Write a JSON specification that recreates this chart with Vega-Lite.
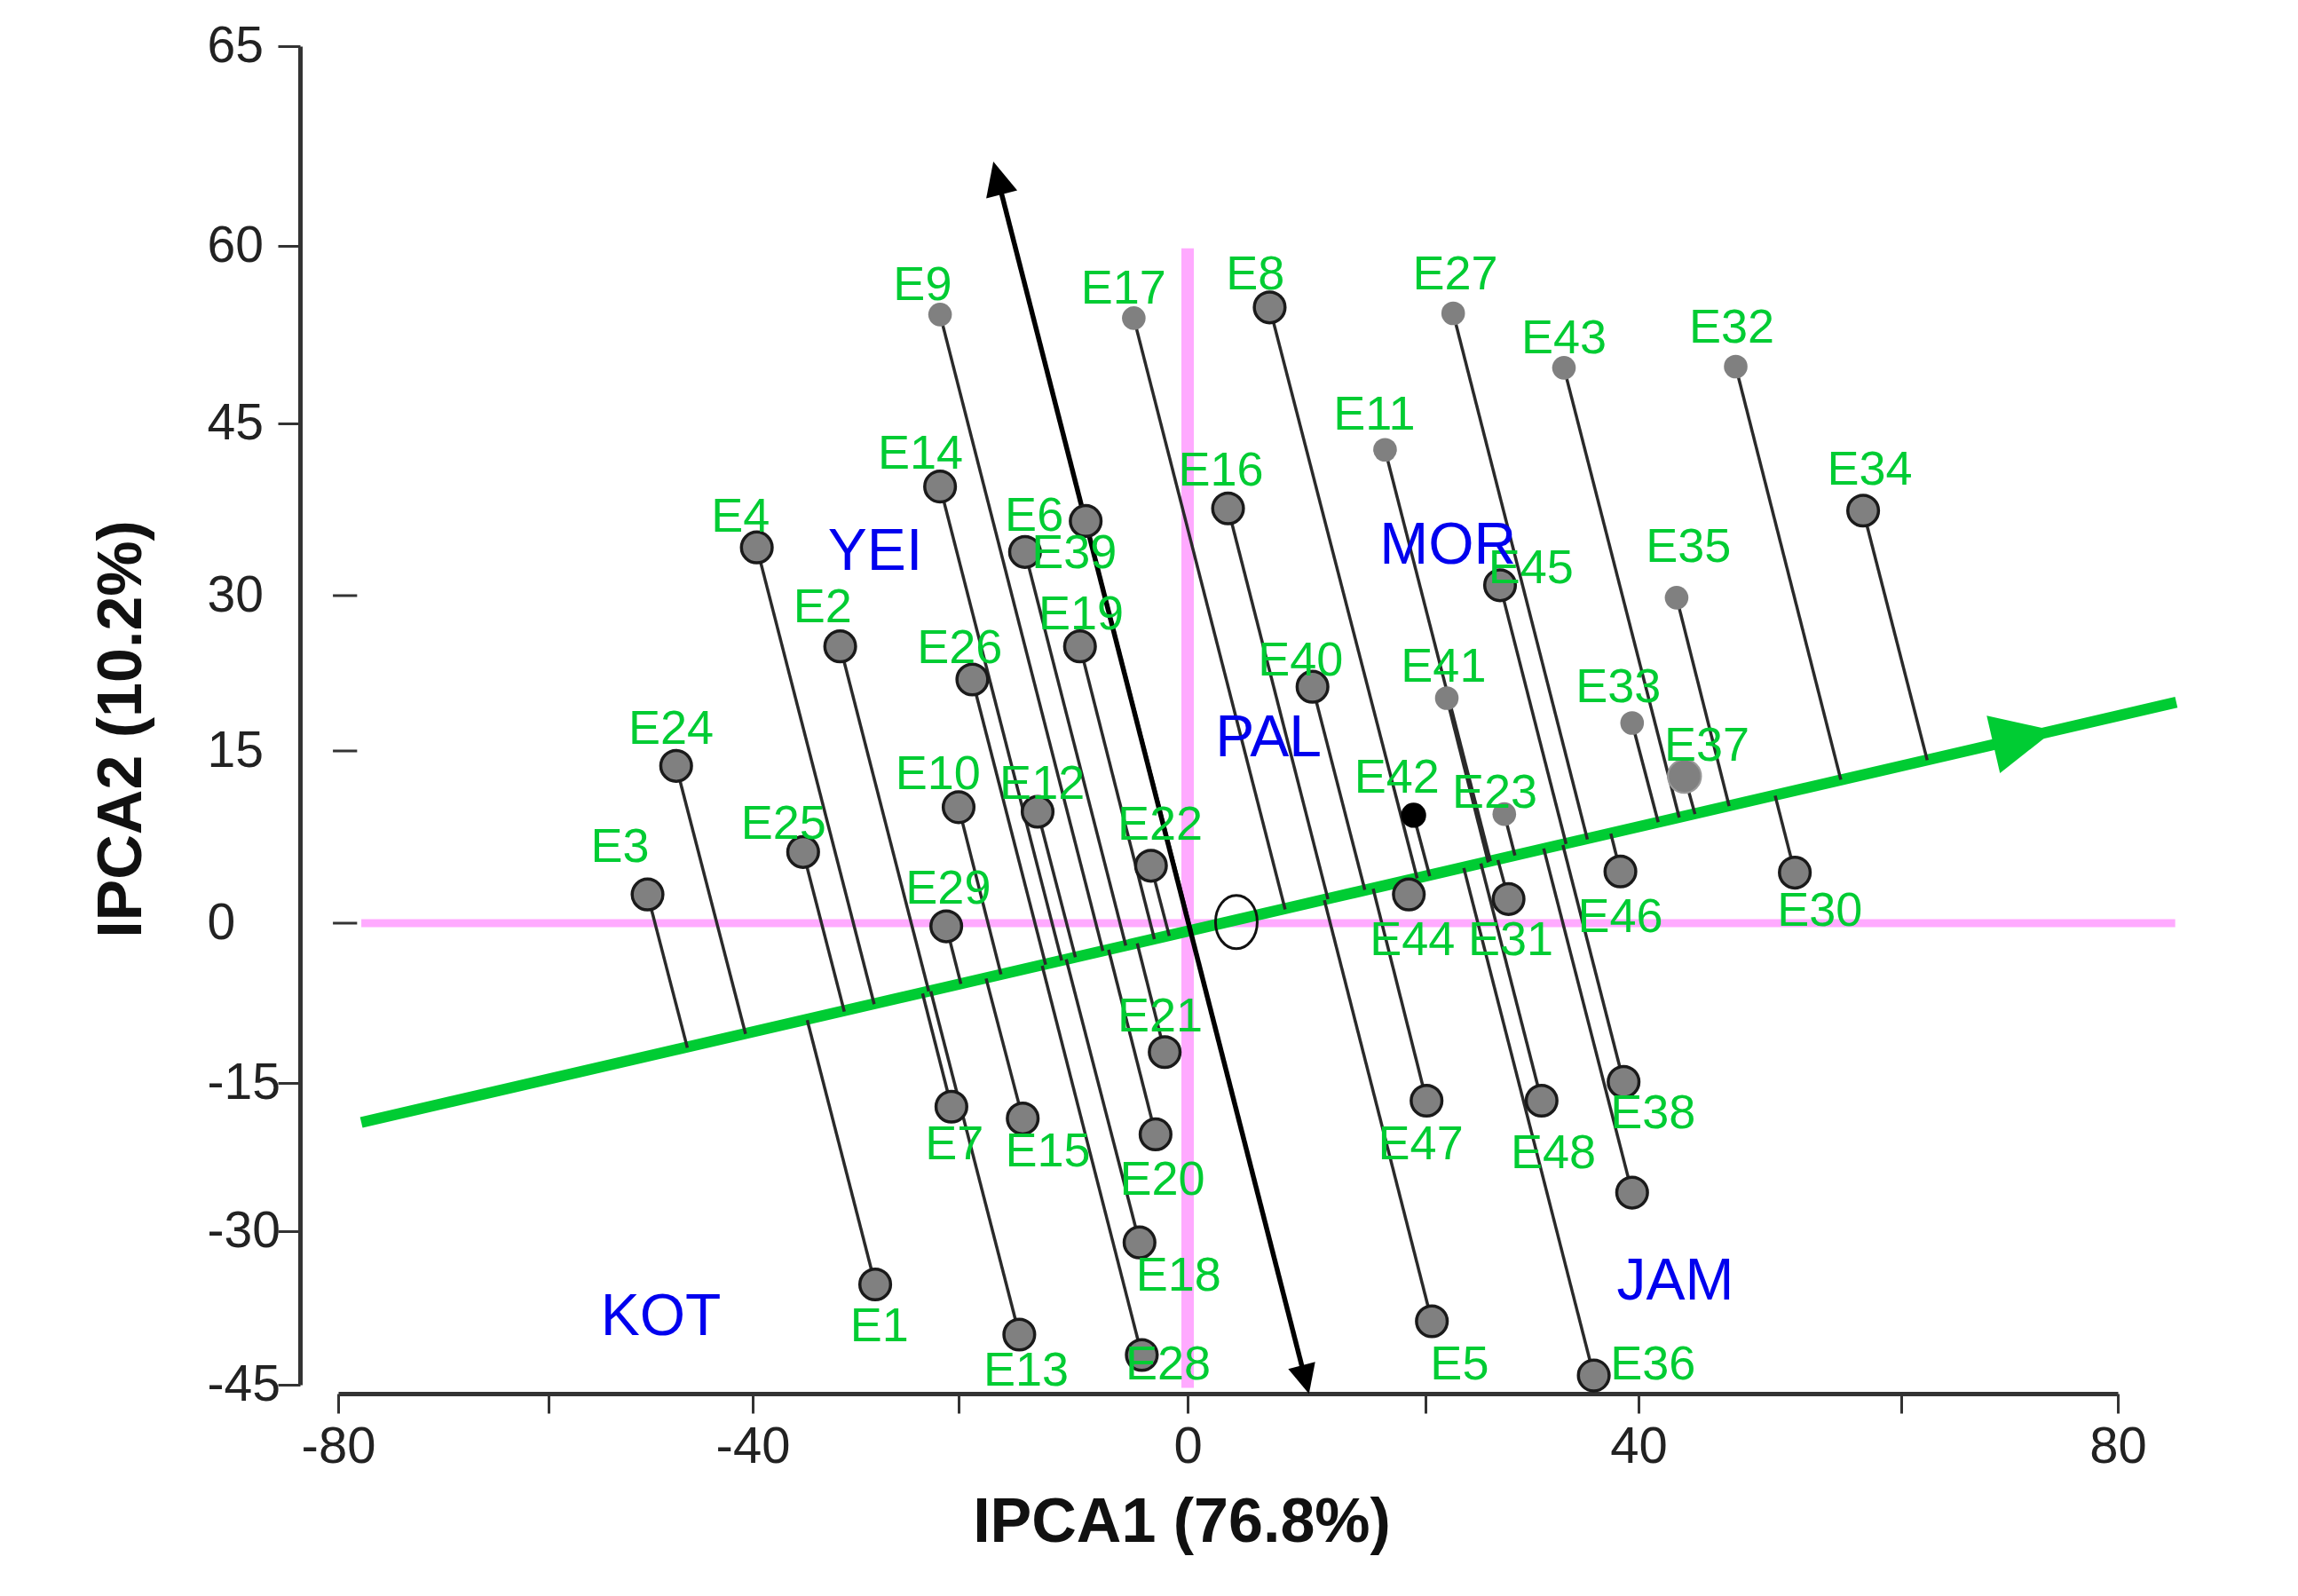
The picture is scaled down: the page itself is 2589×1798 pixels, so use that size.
{
  "$schema": "https://vega.github.io/schema/vega-lite/v6.json",
  "width": 2005,
  "height": 1508,
  "autosize": {"type": "none"},
  "padding": {"left": 381, "top": 52, "right": 203, "bottom": 238},
  "background": "white",
  "config": {"view": {"stroke": null}, "font": "Liberation Sans"},
  "datasets": {
    "genotypes": [
      {"g": "E1", "ipca1": -28.1, "ipca2": -35.2, "foot1": -34.7, "foot2": -9.1, "marker": "outlined"},
      {"g": "E2", "ipca1": -31.5, "ipca2": 25.1, "foot1": -22.9, "foot2": -6.4, "marker": "outlined"},
      {"g": "E3", "ipca1": -50.3, "ipca2": 2.5, "foot1": -46.4, "foot2": -11.7, "marker": "outlined"},
      {"g": "E4", "ipca1": -39.6, "ipca2": 34.2, "foot1": -28.2, "foot2": -7.6, "marker": "outlined"},
      {"g": "E5", "ipca1": 20.6, "ipca2": -38.8, "foot1": 11.5, "foot2": 2.0, "marker": "outlined"},
      {"g": "E6", "ipca1": -14.2, "ipca2": 33.8, "foot1": -5.4, "foot2": -2.1, "marker": "outlined"},
      {"g": "E7", "ipca1": -20.7, "ipca2": -17.4, "foot1": -23.5, "foot2": -6.6, "marker": "outlined"},
      {"g": "E8", "ipca1": 6.9, "ipca2": 54.8, "foot1": 19.3, "foot2": 3.9, "marker": "outlined"},
      {"g": "E9", "ipca1": -21.8, "ipca2": 54.2, "foot1": -7.4, "foot2": -2.6, "marker": "small"},
      {"g": "E10", "ipca1": -20.0, "ipca2": 10.1, "foot1": -16.3, "foot2": -4.8, "marker": "outlined"},
      {"g": "E11", "ipca1": 16.6, "ipca2": 42.7, "foot1": 26.1, "foot2": 5.4, "marker": "small"},
      {"g": "E12", "ipca1": -13.1, "ipca2": 9.7, "foot1": -9.8, "foot2": -3.2, "marker": "outlined"},
      {"g": "E13", "ipca1": -14.7, "ipca2": -40.1, "foot1": -22.7, "foot2": -6.4, "marker": "outlined"},
      {"g": "E14", "ipca1": -21.8, "ipca2": 39.5, "foot1": -11.0, "foot2": -3.5, "marker": "outlined"},
      {"g": "E15", "ipca1": -14.4, "ipca2": -18.6, "foot1": -17.6, "foot2": -5.2, "marker": "outlined"},
      {"g": "E16", "ipca1": 3.4, "ipca2": 37.6, "foot1": 11.8, "foot2": 2.1, "marker": "outlined"},
      {"g": "E17", "ipca1": -4.7, "ipca2": 53.9, "foot1": 8.2, "foot2": 1.2, "marker": "small"},
      {"g": "E18", "ipca1": -4.2, "ipca2": -31.1, "foot1": -10.6, "foot2": -3.4, "marker": "outlined"},
      {"g": "E19", "ipca1": -9.4, "ipca2": 25.1, "foot1": -2.9, "foot2": -1.5, "marker": "outlined"},
      {"g": "E20", "ipca1": -2.8, "ipca2": -20.2, "foot1": -6.9, "foot2": -2.5, "marker": "outlined"},
      {"g": "E21", "ipca1": -2.0, "ipca2": -12.1, "foot1": -4.4, "foot2": -1.9, "marker": "outlined"},
      {"g": "E22", "ipca1": -3.2, "ipca2": 5.0, "foot1": -1.6, "foot2": -1.2, "marker": "outlined"},
      {"g": "E23", "ipca1": 27.4, "ipca2": 9.5, "foot1": 28.4, "foot2": 5.9, "marker": "small"},
      {"g": "E24", "ipca1": -47.5, "ipca2": 13.7, "foot1": -40.7, "foot2": -10.4, "marker": "outlined"},
      {"g": "E25", "ipca1": -35.1, "ipca2": 6.2, "foot1": -31.1, "foot2": -8.3, "marker": "outlined"},
      {"g": "E26", "ipca1": -18.8, "ipca2": 21.9, "foot1": -12.4, "foot2": -3.9, "marker": "outlined"},
      {"g": "E27", "ipca1": 22.6, "ipca2": 54.3, "foot1": 35.2, "foot2": 7.3, "marker": "small"},
      {"g": "E28", "ipca1": -4.0, "ipca2": -42.1, "foot1": -12.7, "foot2": -4.0, "marker": "outlined"},
      {"g": "E29", "ipca1": -21.2, "ipca2": -0.3, "foot1": -19.8, "foot2": -5.7, "marker": "outlined"},
      {"g": "E30", "ipca1": 51.9, "ipca2": 4.4, "foot1": 50.4, "foot2": 11.1, "marker": "outlined"},
      {"g": "E31", "ipca1": 27.8, "ipca2": 2.1, "foot1": 26.8, "foot2": 5.5, "marker": "outlined"},
      {"g": "E32", "ipca1": 47.4, "ipca2": 49.8, "foot1": 55.4, "foot2": 12.5, "marker": "small"},
      {"g": "E33", "ipca1": 39.4, "ipca2": 17.7, "foot1": 41.5, "foot2": 8.8, "marker": "small"},
      {"g": "E34", "ipca1": 57.1, "ipca2": 37.4, "foot1": 62.4, "foot2": 14.2, "marker": "outlined"},
      {"g": "E35", "ipca1": 42.9, "ipca2": 29.8, "foot1": 46.9, "foot2": 10.2, "marker": "small"},
      {"g": "E36", "ipca1": 35.8, "ipca2": -44.1, "foot1": 23.6, "foot2": 4.8, "marker": "outlined"},
      {"g": "E37", "ipca1": 43.5, "ipca2": 12.8, "foot1": 44.3, "foot2": 9.5, "marker": "large"},
      {"g": "E38", "ipca1": 38.6, "ipca2": -14.9, "foot1": 32.9, "foot2": 6.8, "marker": "outlined"},
      {"g": "E39", "ipca1": -8.9, "ipca2": 36.5, "foot1": 0.3, "foot2": -0.7, "marker": "outlined"},
      {"g": "E40", "ipca1": 10.5, "ipca2": 21.2, "foot1": 14.9, "foot2": 2.9, "marker": "outlined"},
      {"g": "E41", "ipca1": 22.0, "ipca2": 20.1, "foot1": 25.9, "foot2": 5.3, "marker": "small"},
      {"g": "E42", "ipca1": 19.0, "ipca2": 9.4, "foot1": 20.4, "foot2": 4.1, "marker": "black"},
      {"g": "E43", "ipca1": 33.0, "ipca2": 49.7, "foot1": 43.1, "foot2": 9.2, "marker": "small"},
      {"g": "E44", "ipca1": 18.6, "ipca2": 2.5, "foot1": 18.3, "foot2": 3.7, "marker": "outlined"},
      {"g": "E45", "ipca1": 27.0, "ipca2": 30.9, "foot1": 33.2, "foot2": 6.9, "marker": "outlined"},
      {"g": "E46", "ipca1": 38.3, "ipca2": 4.5, "foot1": 37.4, "foot2": 7.8, "marker": "outlined"},
      {"g": "E47", "ipca1": 20.1, "ipca2": -16.8, "foot1": 15.6, "foot2": 3.0, "marker": "outlined"},
      {"g": "E48", "ipca1": 30.9, "ipca2": -16.8, "foot1": 25.2, "foot2": 5.2, "marker": "outlined"},
      {"g": "(unlabelled)", "ipca1": 39.4, "ipca2": -26.1, "foot1": 31.1, "foot2": 6.5, "marker": "outlined"}
    ],
    "genotypeLabels": [
      {"g": "E1", "ipca1": -27.7, "ipca2": -39.4},
      {"g": "E2", "ipca1": -33.2, "ipca2": 28.8},
      {"g": "E3", "ipca1": -53.0, "ipca2": 6.6},
      {"g": "E4", "ipca1": -41.2, "ipca2": 36.8},
      {"g": "E5", "ipca1": 23.2, "ipca2": -43.1},
      {"g": "E6", "ipca1": -13.4, "ipca2": 36.9},
      {"g": "E7", "ipca1": -20.4, "ipca2": -21.3},
      {"g": "E8", "ipca1": 5.7, "ipca2": 57.5},
      {"g": "E9", "ipca1": -23.5, "ipca2": 56.6},
      {"g": "E10", "ipca1": -22.0, "ipca2": 12.9},
      {"g": "E11", "ipca1": 15.7, "ipca2": 45.7},
      {"g": "E12", "ipca1": -12.7, "ipca2": 12.1},
      {"g": "E13", "ipca1": -14.1, "ipca2": -43.7},
      {"g": "E14", "ipca1": -23.7, "ipca2": 42.3},
      {"g": "E15", "ipca1": -12.2, "ipca2": -22.0},
      {"g": "E16", "ipca1": 2.8, "ipca2": 40.8},
      {"g": "E17", "ipca1": -5.6, "ipca2": 56.3},
      {"g": "E18", "ipca1": -0.8, "ipca2": -34.4},
      {"g": "E19", "ipca1": -9.3, "ipca2": 28.1},
      {"g": "E20", "ipca1": -2.2, "ipca2": -24.9},
      {"g": "E21", "ipca1": -2.4, "ipca2": -8.8},
      {"g": "E22", "ipca1": -2.4, "ipca2": 8.5},
      {"g": "E23", "ipca1": 26.5, "ipca2": 11.3},
      {"g": "E24", "ipca1": -48.0, "ipca2": 17.1},
      {"g": "E25", "ipca1": -37.0, "ipca2": 8.6},
      {"g": "E26", "ipca1": -19.9, "ipca2": 24.9},
      {"g": "E27", "ipca1": 22.8, "ipca2": 57.5},
      {"g": "E28", "ipca1": -1.7, "ipca2": -43.1},
      {"g": "E29", "ipca1": -21.0, "ipca2": 2.9},
      {"g": "E30", "ipca1": 53.8, "ipca2": 1.0},
      {"g": "E31", "ipca1": 28.0, "ipca2": -1.7},
      {"g": "E32", "ipca1": 47.1, "ipca2": 53.0},
      {"g": "E33", "ipca1": 38.1, "ipca2": 21.1},
      {"g": "E34", "ipca1": 57.6, "ipca2": 40.9},
      {"g": "E35", "ipca1": 43.8, "ipca2": 34.2},
      {"g": "E36", "ipca1": 41.1, "ipca2": -43.1},
      {"g": "E37", "ipca1": 45.2, "ipca2": 15.4},
      {"g": "E38", "ipca1": 41.1, "ipca2": -18.1},
      {"g": "E39", "ipca1": -9.9, "ipca2": 33.6},
      {"g": "E40", "ipca1": 9.5, "ipca2": 23.7},
      {"g": "E41", "ipca1": 21.7, "ipca2": 23.1},
      {"g": "E42", "ipca1": 17.6, "ipca2": 12.6},
      {"g": "E43", "ipca1": 33.0, "ipca2": 52.1},
      {"g": "E44", "ipca1": 18.9, "ipca2": -1.7},
      {"g": "E45", "ipca1": 29.9, "ipca2": 32.3},
      {"g": "E46", "ipca1": 38.3, "ipca2": 0.5},
      {"g": "E47", "ipca1": 19.6, "ipca2": -21.3},
      {"g": "E48", "ipca1": 32.0, "ipca2": -22.2}
    ],
    "environments": [
      {"env": "YEI", "ipca1": -28.1, "ipca2": 33.8},
      {"env": "MOR", "ipca1": 22.1, "ipca2": 34.3},
      {"env": "PAL", "ipca1": 6.8, "ipca2": 16.2},
      {"env": "KOT", "ipca1": -49.0, "ipca2": -38.4},
      {"env": "JAM", "ipca1": 42.8, "ipca2": -34.9}
    ],
    "atcLines": [
      {"line": "abscissa", "ipca1": -77.8, "ipca2": -19.0, "end1": 85.4, "end2": 19.7},
      {"line": "ordinate", "ipca1": -16.6, "ipca2": 61.7, "end1": 9.9, "end2": -44.5}
    ],
    "arrowheads": [
      {"head": "abscissa", "ipca1": 71.3, "ipca2": 16.3},
      {"head": "ordinate-up", "ipca1": -16.6, "ipca2": 61.7},
      {"head": "ordinate-down", "ipca1": 9.9, "ipca2": -44.5}
    ],
    "crosshair": [
      {"line": "horizontal", "ipca1": -77.8, "ipca2": 0, "end1": 85.3, "end2": 0},
      {"line": "vertical", "ipca1": 0, "ipca2": -45.3, "end1": 0, "end2": 59.8}
    ],
    "origin": [{"ipca1": 4.1, "ipca2": 0.1}],
    "innerTicks": [
      {"ipca1": -80.5, "ipca2": 30, "end1": -78.2, "end2": 30},
      {"ipca1": -80.5, "ipca2": 15, "end1": -78.2, "end2": 15},
      {"ipca1": -80.5, "ipca2": 0, "end1": -78.2, "end2": 0}
    ]
  },
  "encoding": {
    "x": {
      "field": "ipca1", "type": "quantitative",
      "scale": {"domain": [-80, -60, -40, -20, 0, 20, 40, 60, 80], "range": [0, 237, 467, 699, 957, 1225, 1465, 1761, 2005], "nice": false, "zero": false},
      "axis": {
        "title": "IPCA1 (76.8%)",
        "values": [-80, -60, -40, -20, 0, 20, 40, 60, 80],
        "labelExpr": "datum.value % 40 === 0 ? toString(datum.value) : ''",
        "offset": 10, "grid": false,
        "domainColor": "#333333", "domainWidth": 5,
        "tickColor": "#333333", "tickWidth": 3, "tickSize": 22,
        "labelFont": "Liberation Sans", "labelFontSize": 58, "labelColor": "#222222", "labelPadding": 9,
        "labelFlush": false, "labelOverlap": false,
        "titleFont": "Liberation Sans", "titleFontSize": 70, "titleFontWeight": "bold", "titleColor": "#111111", "titlePadding": 22, "titleX": 950
      }
    },
    "y": {
      "field": "ipca2", "type": "quantitative",
      "scale": {"domain": [-45, -30, -15, 0, 15, 30, 45, 60, 65], "range": [1508, 1335, 1168, 988, 794, 619, 425, 225, 0], "nice": false, "zero": false},
      "axis": {
        "title": "IPCA2 (10.2%)",
        "values": [-45, -30, -15, 0, 15, 30, 45, 60, 65],
        "labelExpr": "toString(datum.value)",
        "offset": 43, "grid": false,
        "domainColor": "#333333", "domainWidth": 5,
        "tickColor": "#333333", "tickWidth": 3, "tickSize": 25,
        "tickOpacity": {"condition": {"test": "datum.value >= 0 && datum.value <= 30", "value": 0}, "value": 1},
        "labelFont": "Liberation Sans", "labelFontSize": 57, "labelColor": "#222222", "labelPadding": 80, "labelAlign": "left",
        "labelFlush": false, "labelOverlap": false,
        "titleFont": "Liberation Sans", "titleFontSize": 70, "titleFontWeight": "bold", "titleColor": "#111111", "titlePadding": 60, "titleY": 769
      }
    }
  },
  "layer": [
    {
      "data": {"name": "crosshair"},
      "transform": [{"filter": "datum.line === 'horizontal'"}],
      "mark": {"type": "rule", "color": "#ffaaff", "strokeWidth": 9},
      "encoding": {"x2": {"field": "end1"}, "y2": {"field": "end2"}}
    },
    {
      "data": {"name": "crosshair"},
      "transform": [{"filter": "datum.line === 'vertical'"}],
      "mark": {"type": "rule", "color": "#ffaaff", "strokeWidth": 14},
      "encoding": {"x2": {"field": "end1"}, "y2": {"field": "end2"}}
    },
    {
      "data": {"name": "innerTicks"},
      "mark": {"type": "rule", "color": "#333333", "strokeWidth": 3},
      "encoding": {"x2": {"field": "end1"}, "y2": {"field": "end2"}}
    },
    {
      "data": {"name": "atcLines"},
      "transform": [{"filter": "datum.line === 'abscissa'"}],
      "mark": {"type": "rule", "color": "#00cc33", "strokeWidth": 12.5},
      "encoding": {"x2": {"field": "end1"}, "y2": {"field": "end2"}}
    },
    {
      "data": {"name": "genotypes"},
      "mark": {"type": "rule", "color": "#2a2a2a", "strokeWidth": 3.5},
      "encoding": {"x2": {"field": "foot1"}, "y2": {"field": "foot2"}}
    },
    {
      "data": {"name": "atcLines"},
      "transform": [{"filter": "datum.line === 'ordinate'"}],
      "mark": {"type": "rule", "color": "#000000", "strokeWidth": 5.5},
      "encoding": {"x2": {"field": "end1"}, "y2": {"field": "end2"}}
    },
    {
      "data": {"name": "arrowheads"},
      "transform": [{"filter": "datum.head === 'abscissa'"}],
      "mark": {"type": "point", "shape": "M1,0L-1,-0.95L-1,0.95Z", "size": 4900, "angle": 347, "filled": true, "color": "#00cc33", "opacity": 1},
      "encoding": {}
    },
    {
      "data": {"name": "arrowheads"},
      "transform": [{"filter": "datum.head === 'ordinate-up'"}],
      "mark": {"type": "point", "shape": "M0,-1L-0.95,1L0.95,1Z", "size": 1444, "angle": 345.6, "filled": true, "color": "#000000", "opacity": 1},
      "encoding": {}
    },
    {
      "data": {"name": "arrowheads"},
      "transform": [{"filter": "datum.head === 'ordinate-down'"}],
      "mark": {"type": "point", "shape": "M0,1L-0.95,-1L0.95,-1Z", "size": 1089, "angle": 345.6, "filled": true, "color": "#000000", "opacity": 1},
      "encoding": {}
    },
    {
      "data": {"name": "origin"},
      "mark": {"type": "point", "shape": "M0,-1.28A1,1.28 0 1,1 0,1.28A1,1.28 0 1,1 0,-1.28Z", "size": 2209, "filled": false, "color": "#111111", "strokeWidth": 3, "opacity": 1},
      "encoding": {}
    },
    {
      "data": {"name": "genotypes"},
      "transform": [{"filter": "datum.marker === 'outlined'"}],
      "mark": {"type": "point", "shape": "circle", "size": 1200, "filled": true, "fill": "#808080", "stroke": "#1a1a1a", "strokeWidth": 3.5, "opacity": 1},
      "encoding": {}
    },
    {
      "data": {"name": "genotypes"},
      "transform": [{"filter": "datum.marker === 'small'"}],
      "mark": {"type": "point", "shape": "circle", "size": 707, "filled": true, "fill": "#808080", "opacity": 1},
      "encoding": {}
    },
    {
      "data": {"name": "genotypes"},
      "transform": [{"filter": "datum.marker === 'large'"}],
      "mark": {"type": "point", "shape": "circle", "size": 1400, "filled": true, "fill": "#808080", "stroke": "#9a9a9a", "strokeWidth": 2, "opacity": 1},
      "encoding": {}
    },
    {
      "data": {"name": "genotypes"},
      "transform": [{"filter": "datum.marker === 'black'"}],
      "mark": {"type": "point", "shape": "circle", "size": 800, "filled": true, "fill": "#000000", "opacity": 1},
      "encoding": {}
    },
    {
      "data": {"name": "genotypeLabels"},
      "mark": {"type": "text", "font": "Liberation Sans", "fontSize": 54, "color": "#00cc33", "align": "center", "baseline": "middle"},
      "encoding": {"text": {"field": "g"}}
    },
    {
      "data": {"name": "environments"},
      "mark": {"type": "text", "font": "Liberation Sans", "fontSize": 66, "color": "#0000ee", "align": "center", "baseline": "middle"},
      "encoding": {"text": {"field": "env"}}
    }
  ]
}
